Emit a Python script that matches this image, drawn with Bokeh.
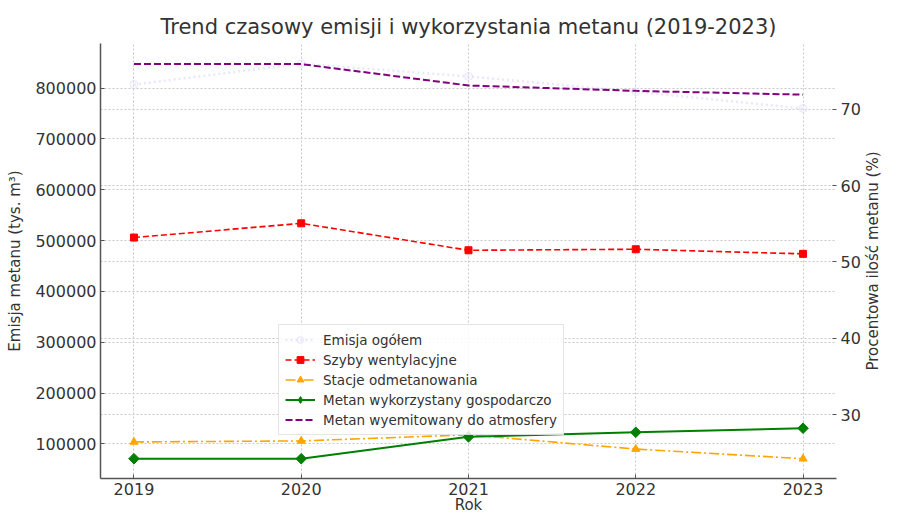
import numpy as np
from bokeh.plotting import figure
from bokeh.models import Range1d, LinearAxis, FixedTicker, Grid, BasicTickFormatter, Label
from bokeh.embed import file_html
from bokeh.resources import INLINE

# ---- data ----
years = [2019, 2020, 2021, 2022, 2023]
emisja_ogolem = [807000, 848000, 823000, 793000, 760000]
szyby_wentylacyjne = [506000, 534000, 481000, 483000, 474000]
stacje_odmetanowania = [104000, 106000, 118000, 90000, 71000]
metan_wykorzystany = [71000, 71000, 114000, 123000, 131000]
metan_wyemitowany_pct = [75.9, 75.9, 73.1, 72.4, 71.9]

left_ticks = [100000, 200000, 300000, 400000, 500000, 600000, 700000, 800000]
right_ticks = [30, 40, 50, 60, 70]

FONT = "DejaVu Sans"
TXT = "#333333"
GRID = "#c8c8c8"
SPINE = "#555555"

W, H = 881, 516
BL, BT = 100, 43

p = figure(width=W, height=H, output_backend="svg", toolbar_location=None,
           x_range=Range1d(2018.8, 2023.2), y_range=Range1d(32100, 887700),
           title="Trend czasowy emisji i wykorzystania metanu (2019-2023)",
           min_border_left=BL, min_border_right=20, min_border_top=BT, min_border_bottom=20)
p.extra_y_ranges = {"pct": Range1d(21.65, 78.6)}
p.outline_line_color = None
p.background_fill_color = "white"

p.title.text_font = FONT
p.title.text_font_size = "21px"
p.title.text_font_style = "normal"
p.title.text_color = TXT
p.title.align = "center"

# axes
def style_axis(ax):
    ax.major_label_text_font = FONT
    ax.major_label_text_font_size = "16px"
    ax.major_label_text_color = TXT
    ax.axis_label_text_font = FONT
    ax.axis_label_text_font_size = "15px"
    ax.axis_label_text_font_style = "normal"
    ax.axis_label_text_color = TXT
    ax.major_tick_in = 4
    ax.major_tick_out = 0
    ax.minor_tick_in = 0
    ax.minor_tick_out = 0
    ax.major_tick_line_color = SPINE
    ax.axis_line_color = SPINE
    ax.axis_line_width = 1.5
    ax.major_label_standoff = 4
    ax.axis_label_standoff = 0

xa = p.xaxis[0]
style_axis(xa)
xa.ticker = FixedTicker(ticks=years)
xa.axis_label = "Rok"
xa.major_label_standoff = 4
xa.axis_label_standoff = -2

ya = p.yaxis[0]
style_axis(ya)
ya.ticker = FixedTicker(ticks=left_ticks)
ya.formatter = BasicTickFormatter(use_scientific=False)
ya.axis_label = "Emisja metanu (tys. m³)"
ya.axis_label_standoff = 8

ra = LinearAxis(y_range_name="pct", ticker=FixedTicker(ticks=right_ticks))
style_axis(ra)
ra.axis_line_color = None
ra.major_label_standoff = 4
p.add_layout(ra, "right")

# right axis title, reading bottom-to-top, in its own side panel
frame_h_est = H - BT - 38
p.add_layout(Label(x=9, y=frame_h_est / 2, x_units="screen", y_units="screen",
                   text="Procentowa ilość metanu (%)", angle=np.pi / 2,
                   text_align="center", text_baseline="middle",
                   text_font=FONT, text_font_size="15px", text_color=TXT), "right")

# grids
p.xgrid.ticker = FixedTicker(ticks=years)
p.ygrid.ticker = FixedTicker(ticks=left_ticks)
for g in (p.xgrid[0], p.ygrid[0]):
    g.grid_line_color = GRID
    g.grid_line_dash = "2 2"
    g.grid_line_width = 1
rg = Grid(dimension=1, ticker=FixedTicker(ticks=right_ticks), y_range_name="pct",
          grid_line_color=GRID, grid_line_dash="2 2", grid_line_width=1)
p.add_layout(rg)

# series
L1 = "Emisja ogółem"
p.line(years, emisja_ogolem, line_color="#c9c2f0", line_alpha=0.4, line_width=2.5,
       line_dash="2 3", legend_label=L1)
p.scatter(years, emisja_ogolem, marker="circle", size=8, fill_color="#eeeaff",
          fill_alpha=0.3, line_color="#c9c2f0", line_alpha=0.35, legend_label=L1)

L2 = "Szyby wentylacyjne"
p.line(years, szyby_wentylacyjne, line_color="red", line_width=1.6, line_dash="6 3",
       legend_label=L2)
p.scatter(years, szyby_wentylacyjne, marker="square", size=7, color="red", legend_label=L2)

L3 = "Stacje odmetanowania"
p.line(years, stacje_odmetanowania, line_color="orange", line_width=1.6,
       line_dash="10 3 2 3", legend_label=L3)
p.scatter(years, stacje_odmetanowania, marker="triangle", size=8, color="orange",
          legend_label=L3)

L4 = "Metan wykorzystany gospodarczo"
p.line(years, metan_wykorzystany, line_color="green", line_width=2, legend_label=L4)
p.scatter(years, metan_wykorzystany, marker="square", angle=np.pi / 4, size=7.5,
          color="green")
# legend-only marker (diamond shape for the legend entry)
p.scatter([np.nan], [np.nan], marker="diamond", size=13, color="green", legend_label=L4)

L5 = "Metan wyemitowany do atmosfery"
p.line(years, metan_wyemitowany_pct, line_color="purple", line_width=2, line_dash="7 3",
       y_range_name="pct", legend_label=L5)

lg = p.legend[0]
lg.location = (178, 43)
lg.label_text_font = FONT
lg.label_text_font_size = "13.5px"
lg.label_text_color = TXT
lg.glyph_width = 30
lg.glyph_height = 17
lg.label_height = 17
lg.spacing = 3
lg.padding = 6
lg.margin = 0
lg.label_standoff = 8
lg.border_line_color = "#cccccc"
lg.background_fill_alpha = 0.85

open("out.html", "w").write(file_html(p, INLINE))
